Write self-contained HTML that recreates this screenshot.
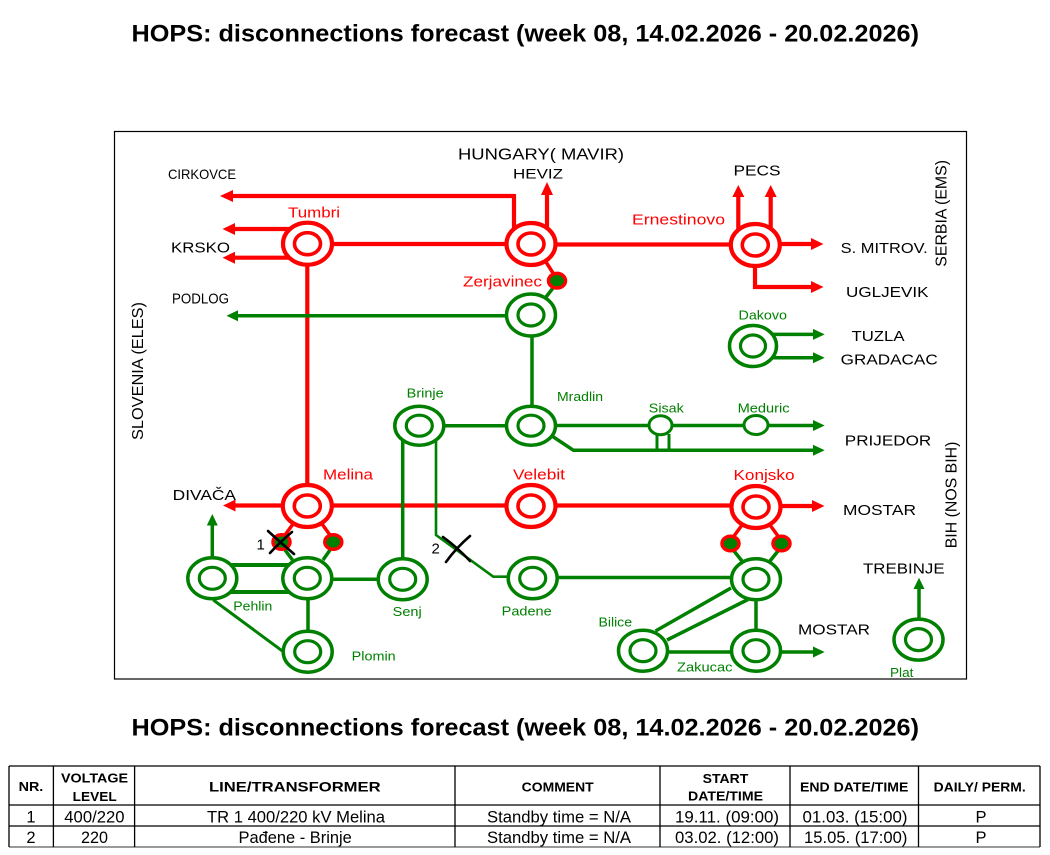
<!DOCTYPE html>
<html>
<head>
<meta charset="utf-8">
<style>
html,body{margin:0;padding:0;background:#fff;}
svg{display:block;}
text{font-family:"Liberation Sans",Arial,sans-serif;}
</style>
</head>
<body>
<svg width="1050" height="855" viewBox="0 0 1050 855" xmlns="http://www.w3.org/2000/svg">
<rect x="0" y="0" width="1050" height="855" fill="#fff"/>

<!-- Titles -->
<text x="131.5" y="41.7" font-size="24" font-weight="bold" fill="#000" textLength="787.5" lengthAdjust="spacingAndGlyphs">HOPS: disconnections forecast (week 08, 14.02.2026 - 20.02.2026)</text>
<text x="131.5" y="735.5" font-size="24" font-weight="bold" fill="#000" textLength="787.5" lengthAdjust="spacingAndGlyphs">HOPS: disconnections forecast (week 08, 14.02.2026 - 20.02.2026)</text>

<!-- Diagram frame -->
<rect x="114.5" y="131.5" width="852" height="547.5" fill="none" stroke="#000" stroke-width="1.2"/>

<!-- RED LINES -->
<g stroke="#ff0000" stroke-width="4.2" fill="none">
  <path d="M514,196 H232 M514,194 V230"/>
  <path d="M547,230 V194"/>
  <path d="M291,229 H234 M291,257.7 H234"/>
  <path d="M331,244 H508"/>
  <path d="M554,244.5 H732"/>
  <path d="M738.3,231 V196 M770.7,231 V196"/>
  <path d="M779,244 H812"/>
  <path d="M755,265 V287 H812"/>
  <path d="M307.3,264 V486"/>
  <path d="M283,505.5 H235"/>
  <path d="M331,505.5 H508 M554,505.5 H733 M780,506 H812"/>
  <path d="M546,262 L553,273" stroke-width="3.5"/>
  <path d="M293,524 L285,535 M322,524 L330,535" stroke-width="3.5"/>
  <path d="M742,525 L734,536 M770,525 L778,536" stroke-width="3.5"/>
</g>
<g fill="#ff0000">
  <polygon points="220,196 233,190 233,202"/>
  <polygon points="547,182 541,195 553,195"/>
  <polygon points="222.5,229 235,223 235,235"/>
  <polygon points="222.5,257.7 235,251.7 235,263.7"/>
  <polygon points="738.3,185 732.3,197 744.3,197"/>
  <polygon points="770.7,185 764.7,197 776.7,197"/>
  <polygon points="823.5,244 811,238 811,250"/>
  <polygon points="823.5,287 811,281 811,293"/>
  <polygon points="223,505.5 235.5,499.5 235.5,511.5"/>
  <polygon points="824.5,506 812,500 812,512"/>
</g>

<!-- GREEN LINES -->
<g stroke="#008000" stroke-width="3.5" fill="none">
  <path d="M553,288 L546,297"/>
  <path d="M507,315.7 H237"/>
  <path d="M532,336 V405"/>
  <path d="M443,425.7 H507"/>
  <path d="M555,425.5 H648 M673,425.5 H743 M769,425.5 H813"/>
  <path d="M552,436 L573.4,450.3 H813"/>
  <path d="M657,434 V450 M669,434 V450" stroke-width="3"/>
  <path d="M773,334.4 H813 M773,357.8 H813"/>
  <path d="M402.7,440 V558"/>
  <path d="M436,441 V535 L493.3,576.7 H509" stroke-width="2.6"/>
  <path d="M285,550 L292.5,560 M330,550 L323,560"/>
  <path d="M230,565 H290 M230,592 H290" stroke-width="4"/>
  <path d="M212.3,557 V524"/>
  <path d="M331,579.3 H379"/>
  <path d="M557,577.5 H732"/>
  <path d="M308,599 V631"/>
  <path d="M213.3,600 L283.3,651.7" stroke-width="3"/>
  <path d="M734,551 L742,561 M778,551 L770,561"/>
  <path d="M756,600 V630"/>
  <path d="M731,588 L655.5,631 M748,599.5 L667,640"/>
  <path d="M668,652 H733"/>
  <path d="M780,652 H813"/>
  <path d="M919,619 V588"/>
</g>
<g fill="#008000">
  <polygon points="226.5,315.7 238,310.2 238,321.2"/>
  <polygon points="824.7,425.5 813,420 813,431"/>
  <polygon points="824.7,450.3 813,444.8 813,455.8"/>
  <polygon points="824.7,334.4 813,328.9 813,339.9"/>
  <polygon points="824.7,357.8 813,352.3 813,363.3"/>
  <polygon points="212.3,514 206.8,525.5 217.8,525.5"/>
  <polygon points="824.7,652 813,646.5 813,657.5"/>
  <polygon points="919,577.7 913.5,589 924.5,589"/>
</g>

<!-- RED NODES -->
<g fill="#fff" stroke="#ff0000">
  <ellipse cx="307.5" cy="243.7" rx="24.5" ry="21" stroke-width="4.2"/><ellipse cx="307.5" cy="243.7" rx="13" ry="11" stroke-width="3.6"/>
  <ellipse cx="531" cy="244" rx="24.5" ry="21" stroke-width="4.2"/><ellipse cx="531" cy="244" rx="13" ry="11" stroke-width="3.6"/>
  <ellipse cx="755.3" cy="245" rx="24.5" ry="21" stroke-width="4.2"/><ellipse cx="755.3" cy="245" rx="13" ry="11" stroke-width="3.6"/>
  <ellipse cx="307.3" cy="506" rx="24.5" ry="21" stroke-width="4.2"/><ellipse cx="307.3" cy="506" rx="13" ry="11" stroke-width="3.6"/>
  <ellipse cx="531" cy="506" rx="24.5" ry="21" stroke-width="4.2"/><ellipse cx="531" cy="506" rx="13" ry="11" stroke-width="3.6"/>
  <ellipse cx="756" cy="507" rx="24.5" ry="21" stroke-width="4.2"/><ellipse cx="756" cy="507" rx="13" ry="11" stroke-width="3.6"/>
</g>

<!-- GREEN NODES -->
<g fill="#fff" stroke="#008000">
  <ellipse cx="531" cy="315" rx="24.5" ry="21" stroke-width="3.5"/><ellipse cx="531" cy="315" rx="13" ry="11" stroke-width="3.2"/>
  <ellipse cx="753" cy="346" rx="23.5" ry="20.5" stroke-width="3.5"/><ellipse cx="753" cy="346" rx="12.5" ry="11" stroke-width="3.2"/>
  <ellipse cx="419.3" cy="425.7" rx="24.5" ry="19.5" stroke-width="3.5"/><ellipse cx="419.3" cy="425.7" rx="13" ry="10.5" stroke-width="3.2"/>
  <ellipse cx="531" cy="425.7" rx="24.5" ry="19.5" stroke-width="3.5"/><ellipse cx="531" cy="425.7" rx="13" ry="10.5" stroke-width="3.2"/>
  <ellipse cx="212.3" cy="578.3" rx="24.5" ry="20.5" stroke-width="3.5"/><ellipse cx="212.3" cy="578.3" rx="13" ry="11" stroke-width="3.2"/>
  <ellipse cx="307.3" cy="578.3" rx="24.5" ry="20.5" stroke-width="3.5"/><ellipse cx="307.3" cy="578.3" rx="13" ry="11" stroke-width="3.2"/>
  <ellipse cx="402.7" cy="579.3" rx="24.5" ry="20.5" stroke-width="3.5"/><ellipse cx="402.7" cy="579.3" rx="13" ry="11" stroke-width="3.2"/>
  <ellipse cx="532.7" cy="578.3" rx="24.5" ry="20.5" stroke-width="3.5"/><ellipse cx="532.7" cy="578.3" rx="13" ry="11" stroke-width="3.2"/>
  <ellipse cx="756" cy="579.3" rx="24.5" ry="20.5" stroke-width="3.5"/><ellipse cx="756" cy="579.3" rx="13" ry="11" stroke-width="3.2"/>
  <ellipse cx="307.7" cy="651.7" rx="24.5" ry="20.5" stroke-width="3.5"/><ellipse cx="307.7" cy="651.7" rx="13" ry="11" stroke-width="3.2"/>
  <ellipse cx="643" cy="650.7" rx="24.5" ry="20.5" stroke-width="3.5"/><ellipse cx="643" cy="650.7" rx="13" ry="11" stroke-width="3.2"/>
  <ellipse cx="756" cy="650.7" rx="24.5" ry="20.5" stroke-width="3.5"/><ellipse cx="756" cy="650.7" rx="13" ry="11" stroke-width="3.2"/>
  <ellipse cx="918.5" cy="639.6" rx="24.5" ry="20.5" stroke-width="3.5"/><ellipse cx="918.5" cy="639.6" rx="13" ry="11" stroke-width="3.2"/>
  <ellipse cx="660.5" cy="425.2" rx="11.5" ry="9.5" stroke-width="3"/>
  <ellipse cx="756" cy="425" rx="12" ry="9.5" stroke-width="3"/>
</g>

<!-- Transformer dots -->
<g fill="#008000" stroke="#ff0000" stroke-width="3.5">
  <ellipse cx="557" cy="280.7" rx="8.5" ry="7.3"/>
  <ellipse cx="281.5" cy="542" rx="8.5" ry="7.3"/>
  <ellipse cx="333.3" cy="542" rx="8.5" ry="7.3"/>
  <ellipse cx="730.5" cy="543.5" rx="8.5" ry="7.3"/>
  <ellipse cx="781.5" cy="543.5" rx="8.5" ry="7.3"/>
</g>

<!-- X marks -->
<g stroke="#000" stroke-width="2.6" fill="none" stroke-linecap="round">
  <path d="M268,531 Q281,543 294,554 M270,553 Q281,541 292,532"/>
  <path d="M443,537 Q457,547 470,561 M446,562 Q456,548 470,536"/>
</g>
<text x="256.5" y="549.3" font-size="15" fill="#000">1</text>
<text x="431.5" y="553.5" font-size="15" fill="#000">2</text>

<!-- Black labels -->
<g fill="#000" font-size="15">
  <text x="168" y="179" font-size="14" textLength="68" lengthAdjust="spacingAndGlyphs">CIRKOVCE</text>
  <text x="458" y="159.3" font-size="16" textLength="166" lengthAdjust="spacingAndGlyphs">HUNGARY( MAVIR)</text>
  <text x="513" y="178.7" font-size="13.5" textLength="50" lengthAdjust="spacingAndGlyphs">HEVIZ</text>
  <text x="171" y="252.3" textLength="59" lengthAdjust="spacingAndGlyphs">KRSKO</text>
  <text x="172" y="303.3" font-size="14.5" textLength="57" lengthAdjust="spacingAndGlyphs">PODLOG</text>
  <text x="733.5" y="175.5" textLength="47" lengthAdjust="spacingAndGlyphs">PECS</text>
  <text x="840.7" y="253" textLength="87" lengthAdjust="spacingAndGlyphs">S. MITROV.</text>
  <text x="846" y="296.8" textLength="82.5" lengthAdjust="spacingAndGlyphs">UGLJEVIK</text>
  <text x="851.5" y="341" textLength="53" lengthAdjust="spacingAndGlyphs">TUZLA</text>
  <text x="840.7" y="364.5" textLength="97" lengthAdjust="spacingAndGlyphs">GRADACAC</text>
  <text x="844.8" y="445.3" textLength="86.4" lengthAdjust="spacingAndGlyphs">PRIJEDOR</text>
  <text x="843" y="515" textLength="73" lengthAdjust="spacingAndGlyphs">MOSTAR</text>
  <text x="863" y="573.3" textLength="81.6" lengthAdjust="spacingAndGlyphs">TREBINJE</text>
  <text x="798" y="634.6" textLength="72" lengthAdjust="spacingAndGlyphs">MOSTAR</text>
  <text x="172.7" y="500" textLength="63.3" lengthAdjust="spacingAndGlyphs">DIVAČA</text>
  <text transform="translate(143,440) rotate(-90)" font-size="16" textLength="138" lengthAdjust="spacingAndGlyphs">SLOVENIA (ELES)</text>
  <text transform="translate(946.5,266.7) rotate(-90)" font-size="16" textLength="106.7" lengthAdjust="spacingAndGlyphs">SERBIA (EMS)</text>
  <text transform="translate(956.5,548.3) rotate(-90)" font-size="16" textLength="106.7" lengthAdjust="spacingAndGlyphs">BIH (NOS BIH)</text>
</g>

<!-- Red labels -->
<g fill="#ff0000" font-size="15">
  <text x="288" y="217.3" textLength="52" lengthAdjust="spacingAndGlyphs">Tumbri</text>
  <text x="463" y="286.7" textLength="79" lengthAdjust="spacingAndGlyphs">Zerjavinec</text>
  <text x="632" y="224.5" textLength="93" lengthAdjust="spacingAndGlyphs">Ernestinovo</text>
  <text x="323" y="479.3" textLength="50" lengthAdjust="spacingAndGlyphs">Melina</text>
  <text x="513" y="479.3" textLength="52" lengthAdjust="spacingAndGlyphs">Velebit</text>
  <text x="733.5" y="479.8" textLength="61" lengthAdjust="spacingAndGlyphs">Konjsko</text>
</g>

<!-- Green labels -->
<g fill="#008000" font-size="13">
  <text x="406.7" y="397.7" textLength="37" lengthAdjust="spacingAndGlyphs">Brinje</text>
  <text x="557" y="400.8" textLength="46" lengthAdjust="spacingAndGlyphs">Mradlin</text>
  <text x="648.8" y="412.5" textLength="35" lengthAdjust="spacingAndGlyphs">Sisak</text>
  <text x="737.6" y="412.5" textLength="52" lengthAdjust="spacingAndGlyphs">Meduric</text>
  <text x="738.5" y="319.3" textLength="48.5" lengthAdjust="spacingAndGlyphs">Dakovo</text>
  <text x="233.3" y="610.7" textLength="39" lengthAdjust="spacingAndGlyphs">Pehlin</text>
  <text x="392.7" y="616" textLength="29" lengthAdjust="spacingAndGlyphs">Senj</text>
  <text x="501.7" y="615.7" textLength="50" lengthAdjust="spacingAndGlyphs">Padene</text>
  <text x="351.7" y="660.7" textLength="44" lengthAdjust="spacingAndGlyphs">Plomin</text>
  <text x="598.5" y="626.6" textLength="33.5" lengthAdjust="spacingAndGlyphs">Bilice</text>
  <text x="677" y="671.5" textLength="55.5" lengthAdjust="spacingAndGlyphs">Zakucac</text>
  <text x="890" y="677.2" textLength="23.4" lengthAdjust="spacingAndGlyphs">Plat</text>
</g>

<!-- TABLE -->
<g stroke="#000" stroke-width="1.3" fill="none">
  <path d="M9,766 H1040 M9,805 H1040 M9,826 H1040"/>
  <path d="M9,847 H1040" stroke="#333" stroke-width="1"/>
  <path d="M9,766 V847 M53.4,766 V847 M134.6,766 V847 M455,766 V847 M660,766 V847 M790,766 V847 M918.5,766 V847 M1040,766 V847"/>
</g>
<g fill="#000" font-weight="bold" font-size="13">
  <text x="18.6" y="791" textLength="24.7" lengthAdjust="spacingAndGlyphs">NR.</text>
  <text x="61" y="782.5" textLength="67" lengthAdjust="spacingAndGlyphs">VOLTAGE</text>
  <text x="72.7" y="801" textLength="44" lengthAdjust="spacingAndGlyphs">LEVEL</text>
  <text x="209" y="791.5" font-size="14" textLength="171.6" lengthAdjust="spacingAndGlyphs">LINE/TRANSFORMER</text>
  <text x="521.7" y="791.3" textLength="72" lengthAdjust="spacingAndGlyphs">COMMENT</text>
  <text x="702.7" y="783" textLength="45.6" lengthAdjust="spacingAndGlyphs">START</text>
  <text x="688" y="800.5" textLength="75" lengthAdjust="spacingAndGlyphs">DATE/TIME</text>
  <text x="800" y="791.3" textLength="108.4" lengthAdjust="spacingAndGlyphs">END DATE/TIME</text>
  <text x="933.7" y="791.3" textLength="92" lengthAdjust="spacingAndGlyphs">DAILY/ PERM.</text>
</g>
<g fill="#000" font-size="16.5">
  <text x="31" y="822.5" text-anchor="middle">1</text>
  <text x="64.3" y="822.5" textLength="60.2" lengthAdjust="spacingAndGlyphs">400/220</text>
  <text x="207" y="822.5" textLength="178" lengthAdjust="spacingAndGlyphs">TR 1 400/220 kV Melina</text>
  <text x="487" y="822.5" textLength="144" lengthAdjust="spacingAndGlyphs">Standby time = N/A</text>
  <text x="675" y="822.5" textLength="104" lengthAdjust="spacingAndGlyphs">19.11. (09:00)</text>
  <text x="802.5" y="822.5" textLength="105" lengthAdjust="spacingAndGlyphs">01.03. (15:00)</text>
  <text x="981" y="822.5" text-anchor="middle">P</text>

  <text x="31" y="843" text-anchor="middle">2</text>
  <text x="81" y="843" textLength="27" lengthAdjust="spacingAndGlyphs">220</text>
  <text x="238.5" y="843" textLength="113.3" lengthAdjust="spacingAndGlyphs">Pađene - Brinje</text>
  <text x="487" y="843" textLength="144" lengthAdjust="spacingAndGlyphs">Standby time = N/A</text>
  <text x="675" y="843" textLength="104" lengthAdjust="spacingAndGlyphs">03.02. (12:00)</text>
  <text x="804" y="843" textLength="103.4" lengthAdjust="spacingAndGlyphs">15.05. (17:00)</text>
  <text x="981" y="843" text-anchor="middle">P</text>
</g>
</svg>
</body>
</html>
